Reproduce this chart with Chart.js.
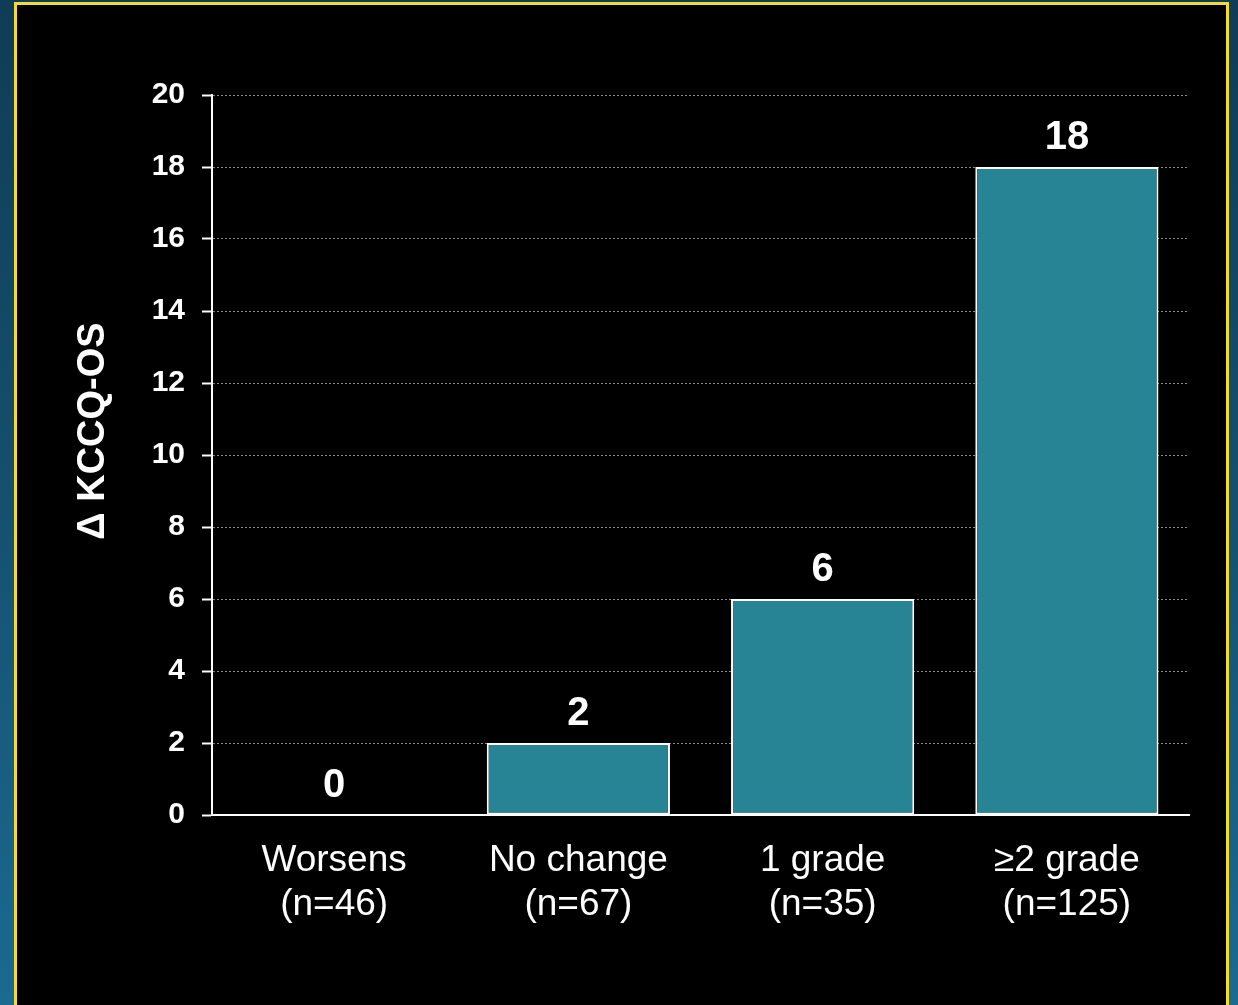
<!DOCTYPE html>
<html>
<head>
<meta charset="utf-8">
<script src="https://cdn.jsdelivr.net/npm/chart.js@4"></script>
<style>
  html, body { margin: 0; padding: 0; }
  body {
    width: 1238px; height: 1005px; overflow: hidden; position: relative;
    background: linear-gradient(to bottom, #0f3c56 0%, #15506e 50%, #1b6a92 100%);
  }
  #panel {
    position: absolute; left: 14px; top: 2px; width: 1209px; height: 1010px;
    background: #000; border: 3px solid #f2dc34;
  }
  #wrap { position: absolute; left: 0; top: 0; width: 1238px; height: 1005px; }
</style>
</head>
<body>
<div id="panel"></div>
<div id="wrap"><canvas id="chart"></canvas></div>
<script>
// data
const categories = [['Worsens', '(n=46)'], ['No change', '(n=67)'], ['1 grade', '(n=35)'], ['\u22652 grade', '(n=125)']];
const kccqChange = [0, 2, 6, 18];
const yTitle = '\u0394 KCCQ-OS';
const yMin = 0;
const yMax = 20;
const yStep = 2;

const FONT = 'Arial, "Liberation Sans", sans-serif';

// value labels above each bar
const valueLabels = {
  id: 'valueLabels',
  afterDatasetsDraw(chart) {
    const ctx = chart.ctx;
    const meta = chart.getDatasetMeta(0);
    ctx.save();
    ctx.fillStyle = '#ffffff';
    ctx.font = 'bold 40px ' + FONT;
    ctx.textAlign = 'center';
    ctx.textBaseline = 'alphabetic';
    meta.data.forEach((bar, i) => {
      ctx.fillText(String(kccqChange[i]), bar.x, bar.y - 18);
    });
    ctx.restore();
  }
};

// rotated y axis title, sits a little above the middle of the plot
const yAxisTitle = {
  id: 'yAxisTitle',
  afterDraw(chart) {
    const ctx = chart.ctx;
    const area = chart.chartArea;
    ctx.save();
    ctx.translate(104, (area.top + area.bottom) / 2 - 24);
    ctx.rotate(-Math.PI / 2);
    ctx.fillStyle = '#ffffff';
    ctx.font = 'bold 38px ' + FONT;
    ctx.textAlign = 'center';
    ctx.textBaseline = 'alphabetic';
    ctx.fillText(yTitle, 0, 0);
    ctx.restore();
  }
};

new Chart(document.getElementById('chart'), {
  type: 'bar',
  data: {
    labels: categories,
    datasets: [{
      data: kccqChange,
      backgroundColor: '#278495',
      borderColor: '#ffffff',
      borderWidth: 2,
      borderSkipped: false,
      barPercentage: 0.75,
      categoryPercentage: 1
    }]
  },
  options: {
    responsive: true,
    maintainAspectRatio: false,
    animation: false,
    layout: { padding: { top: 95, right: 49, bottom: 0, left: 0 } },
    plugins: {
      legend: { display: false },
      tooltip: { enabled: false }
    },
    scales: {
      x: {
        grid: { display: false, drawTicks: false },
        border: { display: true, color: '#ffffff', width: 2 },
        ticks: {
          color: '#ffffff',
          padding: 24,
          maxRotation: 0,
          autoSkip: false,
          font: { family: FONT, size: 37, lineHeight: 1.18 }
        },
        afterFit(scale) { scale.height = 190; }
      },
      y: {
        min: yMin,
        max: yMax,
        grid: {
          color: ctx => (ctx.tick && ctx.tick.value === 0) ? 'rgba(0,0,0,0)' : '#8a8a8a',
          lineWidth: 1,
          drawTicks: true,
          tickLength: 10,
          tickColor: '#ffffff',
          tickWidth: 2
        },
        border: { display: true, color: '#ffffff', width: 2, dash: [2, 2] },
        ticks: {
          stepSize: yStep,
          color: '#ffffff',
          padding: 17,
          font: { family: FONT, size: 30, weight: 'bold' }
        },
        afterFit(scale) { scale.width = 212; }
      }
    }
  },
  plugins: [valueLabels, yAxisTitle]
});
</script>
</body>
</html>
